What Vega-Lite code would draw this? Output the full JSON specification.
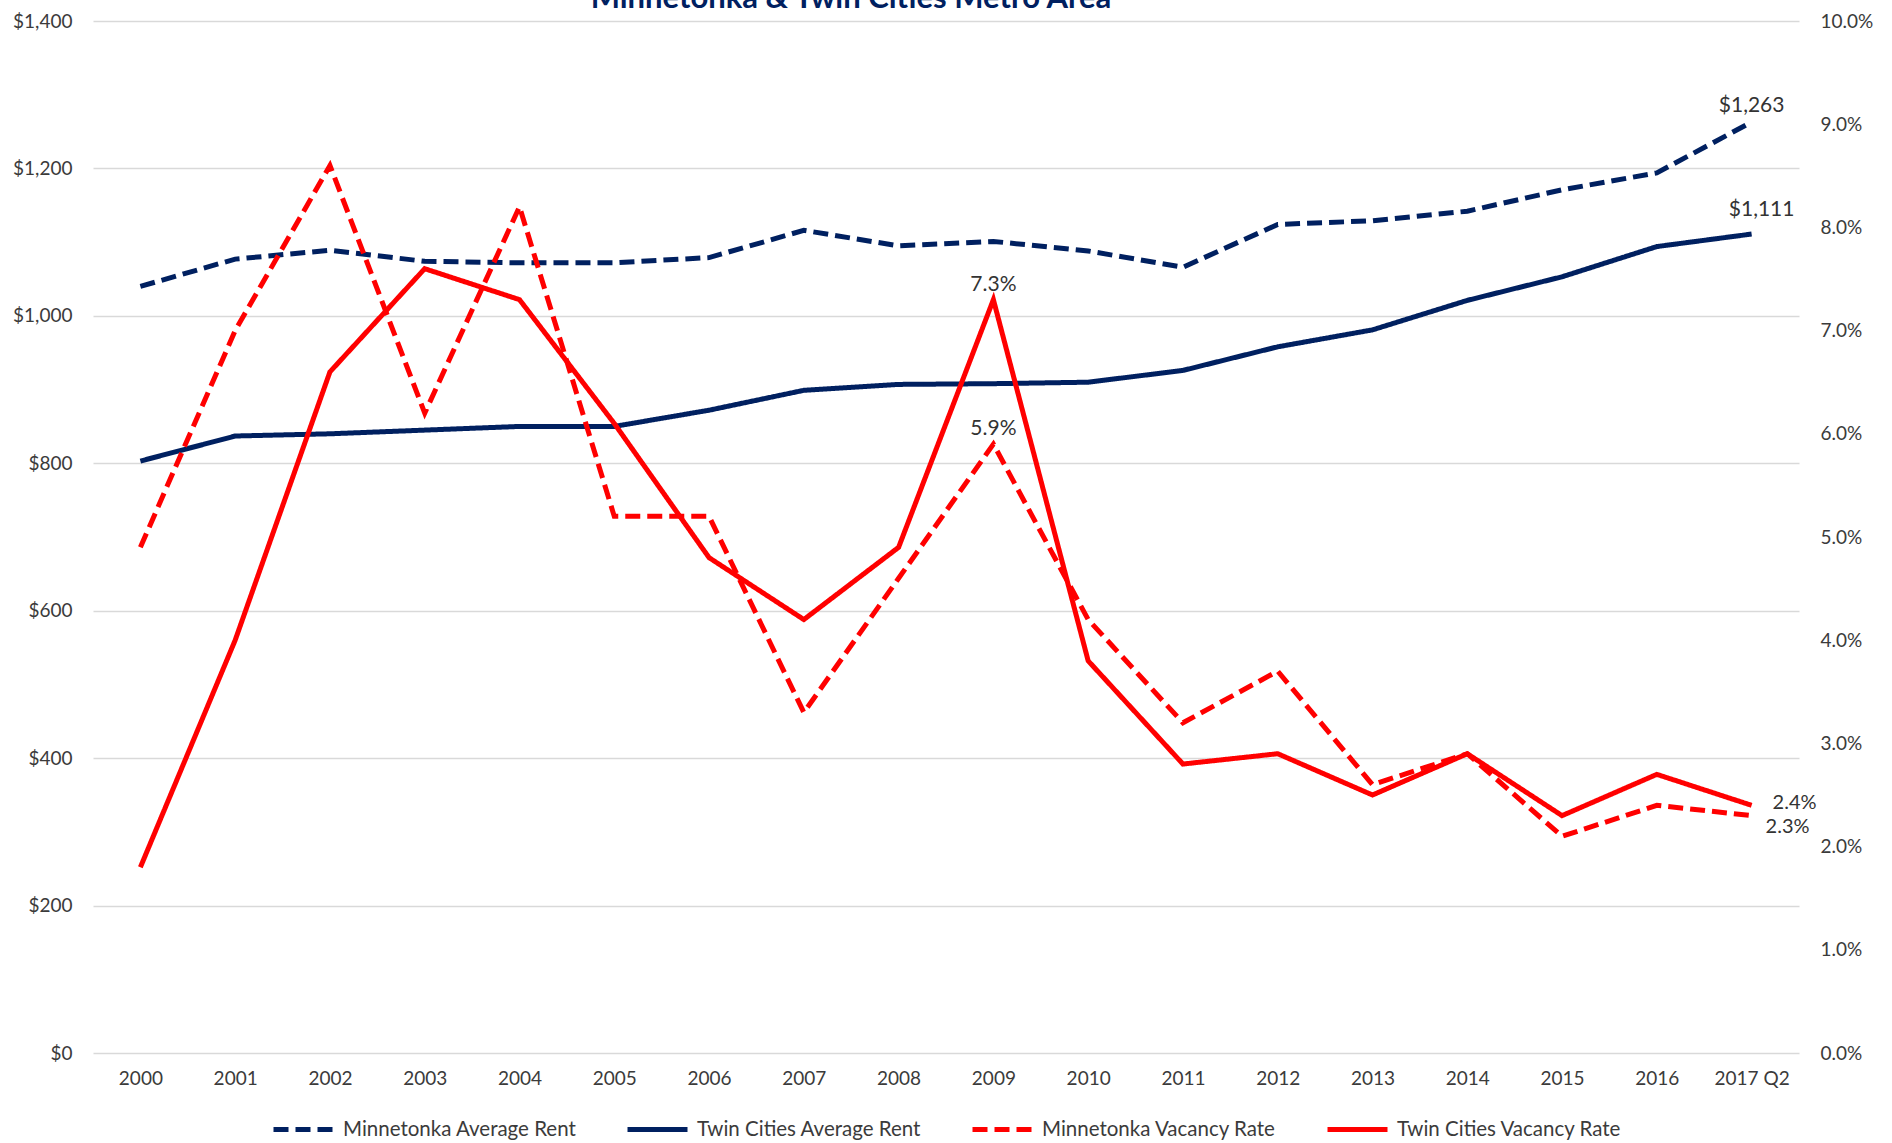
{
  "$schema": "https://vega.github.io/schema/vega-lite/v6.json",
  "width": 1706,
  "height": 1032,
  "autosize": {"type": "none"},
  "padding": {"left": 93, "top": 21, "right": 93, "bottom": 90},
  "background": "white",
  "title": {"text": "Minnetonka & Twin Cities Metro Area", "font": "Lato", "fontSize": 31, "fontWeight": "bold", "color": "#002060", "anchor": "middle", "frame": "group", "dx": -95, "offset": -3},
  "config": {"view": {"stroke": null}, "font": "Lato"},
  "data": {"values": [
    {"year": "2000", "series": "Minnetonka Average Rent", "value": 1040},
    {"year": "2001", "series": "Minnetonka Average Rent", "value": 1077},
    {"year": "2002", "series": "Minnetonka Average Rent", "value": 1089},
    {"year": "2003", "series": "Minnetonka Average Rent", "value": 1074},
    {"year": "2004", "series": "Minnetonka Average Rent", "value": 1072},
    {"year": "2005", "series": "Minnetonka Average Rent", "value": 1072},
    {"year": "2006", "series": "Minnetonka Average Rent", "value": 1079},
    {"year": "2007", "series": "Minnetonka Average Rent", "value": 1116},
    {"year": "2008", "series": "Minnetonka Average Rent", "value": 1095},
    {"year": "2009", "series": "Minnetonka Average Rent", "value": 1101},
    {"year": "2010", "series": "Minnetonka Average Rent", "value": 1088},
    {"year": "2011", "series": "Minnetonka Average Rent", "value": 1066},
    {"year": "2012", "series": "Minnetonka Average Rent", "value": 1124},
    {"year": "2013", "series": "Minnetonka Average Rent", "value": 1129},
    {"year": "2014", "series": "Minnetonka Average Rent", "value": 1142},
    {"year": "2015", "series": "Minnetonka Average Rent", "value": 1171},
    {"year": "2016", "series": "Minnetonka Average Rent", "value": 1194},
    {"year": "2017 Q2", "series": "Minnetonka Average Rent", "value": 1263},
    {"year": "2000", "series": "Twin Cities Average Rent", "value": 803},
    {"year": "2001", "series": "Twin Cities Average Rent", "value": 837},
    {"year": "2002", "series": "Twin Cities Average Rent", "value": 840},
    {"year": "2003", "series": "Twin Cities Average Rent", "value": 845},
    {"year": "2004", "series": "Twin Cities Average Rent", "value": 850},
    {"year": "2005", "series": "Twin Cities Average Rent", "value": 850},
    {"year": "2006", "series": "Twin Cities Average Rent", "value": 872},
    {"year": "2007", "series": "Twin Cities Average Rent", "value": 899},
    {"year": "2008", "series": "Twin Cities Average Rent", "value": 907},
    {"year": "2009", "series": "Twin Cities Average Rent", "value": 908},
    {"year": "2010", "series": "Twin Cities Average Rent", "value": 910},
    {"year": "2011", "series": "Twin Cities Average Rent", "value": 926},
    {"year": "2012", "series": "Twin Cities Average Rent", "value": 958},
    {"year": "2013", "series": "Twin Cities Average Rent", "value": 981},
    {"year": "2014", "series": "Twin Cities Average Rent", "value": 1021},
    {"year": "2015", "series": "Twin Cities Average Rent", "value": 1053},
    {"year": "2016", "series": "Twin Cities Average Rent", "value": 1094},
    {"year": "2017 Q2", "series": "Twin Cities Average Rent", "value": 1111},
    {"year": "2000", "series": "Minnetonka Vacancy Rate", "value": 0.049},
    {"year": "2001", "series": "Minnetonka Vacancy Rate", "value": 0.070},
    {"year": "2002", "series": "Minnetonka Vacancy Rate", "value": 0.086},
    {"year": "2003", "series": "Minnetonka Vacancy Rate", "value": 0.062},
    {"year": "2004", "series": "Minnetonka Vacancy Rate", "value": 0.082},
    {"year": "2005", "series": "Minnetonka Vacancy Rate", "value": 0.052},
    {"year": "2006", "series": "Minnetonka Vacancy Rate", "value": 0.052},
    {"year": "2007", "series": "Minnetonka Vacancy Rate", "value": 0.033},
    {"year": "2008", "series": "Minnetonka Vacancy Rate", "value": 0.046},
    {"year": "2009", "series": "Minnetonka Vacancy Rate", "value": 0.059},
    {"year": "2010", "series": "Minnetonka Vacancy Rate", "value": 0.042},
    {"year": "2011", "series": "Minnetonka Vacancy Rate", "value": 0.032},
    {"year": "2012", "series": "Minnetonka Vacancy Rate", "value": 0.037},
    {"year": "2013", "series": "Minnetonka Vacancy Rate", "value": 0.026},
    {"year": "2014", "series": "Minnetonka Vacancy Rate", "value": 0.029},
    {"year": "2015", "series": "Minnetonka Vacancy Rate", "value": 0.021},
    {"year": "2016", "series": "Minnetonka Vacancy Rate", "value": 0.024},
    {"year": "2017 Q2", "series": "Minnetonka Vacancy Rate", "value": 0.023},
    {"year": "2000", "series": "Twin Cities Vacancy Rate", "value": 0.018},
    {"year": "2001", "series": "Twin Cities Vacancy Rate", "value": 0.040},
    {"year": "2002", "series": "Twin Cities Vacancy Rate", "value": 0.066},
    {"year": "2003", "series": "Twin Cities Vacancy Rate", "value": 0.076},
    {"year": "2004", "series": "Twin Cities Vacancy Rate", "value": 0.073},
    {"year": "2005", "series": "Twin Cities Vacancy Rate", "value": 0.061},
    {"year": "2006", "series": "Twin Cities Vacancy Rate", "value": 0.048},
    {"year": "2007", "series": "Twin Cities Vacancy Rate", "value": 0.042},
    {"year": "2008", "series": "Twin Cities Vacancy Rate", "value": 0.049},
    {"year": "2009", "series": "Twin Cities Vacancy Rate", "value": 0.073},
    {"year": "2010", "series": "Twin Cities Vacancy Rate", "value": 0.038},
    {"year": "2011", "series": "Twin Cities Vacancy Rate", "value": 0.028},
    {"year": "2012", "series": "Twin Cities Vacancy Rate", "value": 0.029},
    {"year": "2013", "series": "Twin Cities Vacancy Rate", "value": 0.025},
    {"year": "2014", "series": "Twin Cities Vacancy Rate", "value": 0.029},
    {"year": "2015", "series": "Twin Cities Vacancy Rate", "value": 0.023},
    {"year": "2016", "series": "Twin Cities Vacancy Rate", "value": 0.027},
    {"year": "2017 Q2", "series": "Twin Cities Vacancy Rate", "value": 0.024}
  ]},
  "encoding": {
    "x": {"field": "year", "type": "ordinal", "sort": null,
      "axis": {"title": null, "labelAngle": 0, "labelFont": "Lato", "labelFontSize": 19, "labelColor": "#3b3b3b", "ticks": false, "domain": false, "grid": false, "labelPadding": 16}}
  },
  "layer": [
    {
      "transform": [{"filter": "indexof(datum.series, 'Rent') >= 0"}],
      "encoding": {
        "y": {"field": "value", "type": "quantitative",
          "scale": {"domain": [0, 1400], "nice": false, "zero": true},
          "axis": {"orient": "left", "title": null, "values": [0, 200, 400, 600, 800, 1000, 1200, 1400], "format": "$,.0f", "grid": true, "gridColor": "#d9d9d9", "gridWidth": 1.5, "domain": false, "ticks": false, "labelFont": "Lato", "labelFontSize": 19, "labelColor": "#3b3b3b", "labelPadding": 21}}
      },
      "layer": [
        {
          "mark": {"type": "line", "strokeWidth": 5},
          "encoding": {
            "color": {"field": "series", "type": "nominal",
              "scale": {"domain": ["Minnetonka Average Rent", "Twin Cities Average Rent", "Minnetonka Vacancy Rate", "Twin Cities Vacancy Rate"], "range": ["#002060", "#002060", "#ff0000", "#ff0000"]},
              "legend": {"title": null, "orient": "none", "legendX": 178, "legendY": 1076, "direction": "horizontal", "columns": 4, "symbolType": "stroke", "symbolSize": 3600, "symbolStrokeWidth": 5, "labelFont": "Lato", "labelFontSize": 20.5, "labelColor": "#3b3b3b", "labelLimit": 0, "labelOffset": 7, "columnPadding": 40}},
            "strokeDash": {"field": "series", "type": "nominal",
              "scale": {"domain": ["Minnetonka Average Rent", "Twin Cities Average Rent", "Minnetonka Vacancy Rate", "Twin Cities Vacancy Rate"], "range": [[15, 7], [1, 0], [15, 7], [1, 0]]},
              "legend": {"title": null, "orient": "none", "legendX": 178, "legendY": 1076, "direction": "horizontal", "columns": 4, "symbolType": "stroke", "symbolSize": 3600, "symbolStrokeWidth": 5, "labelFont": "Lato", "labelFontSize": 20.5, "labelColor": "#3b3b3b", "labelLimit": 0, "labelOffset": 7, "columnPadding": 40}}
          }
        },
        {
          "transform": [{"filter": "datum.year == '2017 Q2' && datum.series == 'Minnetonka Average Rent'"}],
          "mark": {"type": "text", "font": "Lato", "fontSize": 21, "color": "#333333", "baseline": "alphabetic", "align": "center", "dy": -10},
          "encoding": {"text": {"field": "value", "type": "quantitative", "format": "$,.0f"}}
        },
        {
          "transform": [{"filter": "datum.year == '2017 Q2' && datum.series == 'Twin Cities Average Rent'"}],
          "mark": {"type": "text", "font": "Lato", "fontSize": 21, "color": "#333333", "baseline": "alphabetic", "align": "center", "dx": 10, "dy": -18},
          "encoding": {"text": {"field": "value", "type": "quantitative", "format": "$,.0f"}}
        }
      ]
    },
    {
      "transform": [{"filter": "indexof(datum.series, 'Vacancy') >= 0"}],
      "encoding": {
        "y": {"field": "value", "type": "quantitative",
          "scale": {"domain": [0, 0.1], "nice": false, "zero": true},
          "axis": {"orient": "right", "title": null, "values": [0, 0.01, 0.02, 0.03, 0.04, 0.05, 0.06, 0.07, 0.08, 0.09, 0.1], "format": ".1%", "grid": false, "domain": false, "ticks": false, "labelFont": "Lato", "labelFontSize": 19, "labelColor": "#3b3b3b", "labelPadding": 21}}
      },
      "layer": [
        {
          "mark": {"type": "line", "strokeWidth": 5},
          "encoding": {
            "color": {"field": "series", "type": "nominal"},
            "strokeDash": {"field": "series", "type": "nominal"}
          }
        },
        {
          "transform": [{"filter": "datum.year == '2009'"}],
          "mark": {"type": "text", "font": "Lato", "fontSize": 21, "color": "#333333", "baseline": "alphabetic", "align": "center", "dy": -9},
          "encoding": {"text": {"field": "value", "type": "quantitative", "format": ".1%"}}
        },
        {
          "transform": [{"filter": "datum.year == '2017 Q2' && datum.series == 'Twin Cities Vacancy Rate'"}],
          "mark": {"type": "text", "font": "Lato", "fontSize": 20, "color": "#333333", "baseline": "middle", "align": "left", "dx": 21, "dy": -2},
          "encoding": {"text": {"field": "value", "type": "quantitative", "format": ".1%"}}
        },
        {
          "transform": [{"filter": "datum.year == '2017 Q2' && datum.series == 'Minnetonka Vacancy Rate'"}],
          "mark": {"type": "text", "font": "Lato", "fontSize": 20, "color": "#333333", "baseline": "middle", "align": "left", "dx": 14, "dy": 11},
          "encoding": {"text": {"field": "value", "type": "quantitative", "format": ".1%"}}
        }
      ]
    }
  ],
  "resolve": {"scale": {"y": "independent"}}
}
